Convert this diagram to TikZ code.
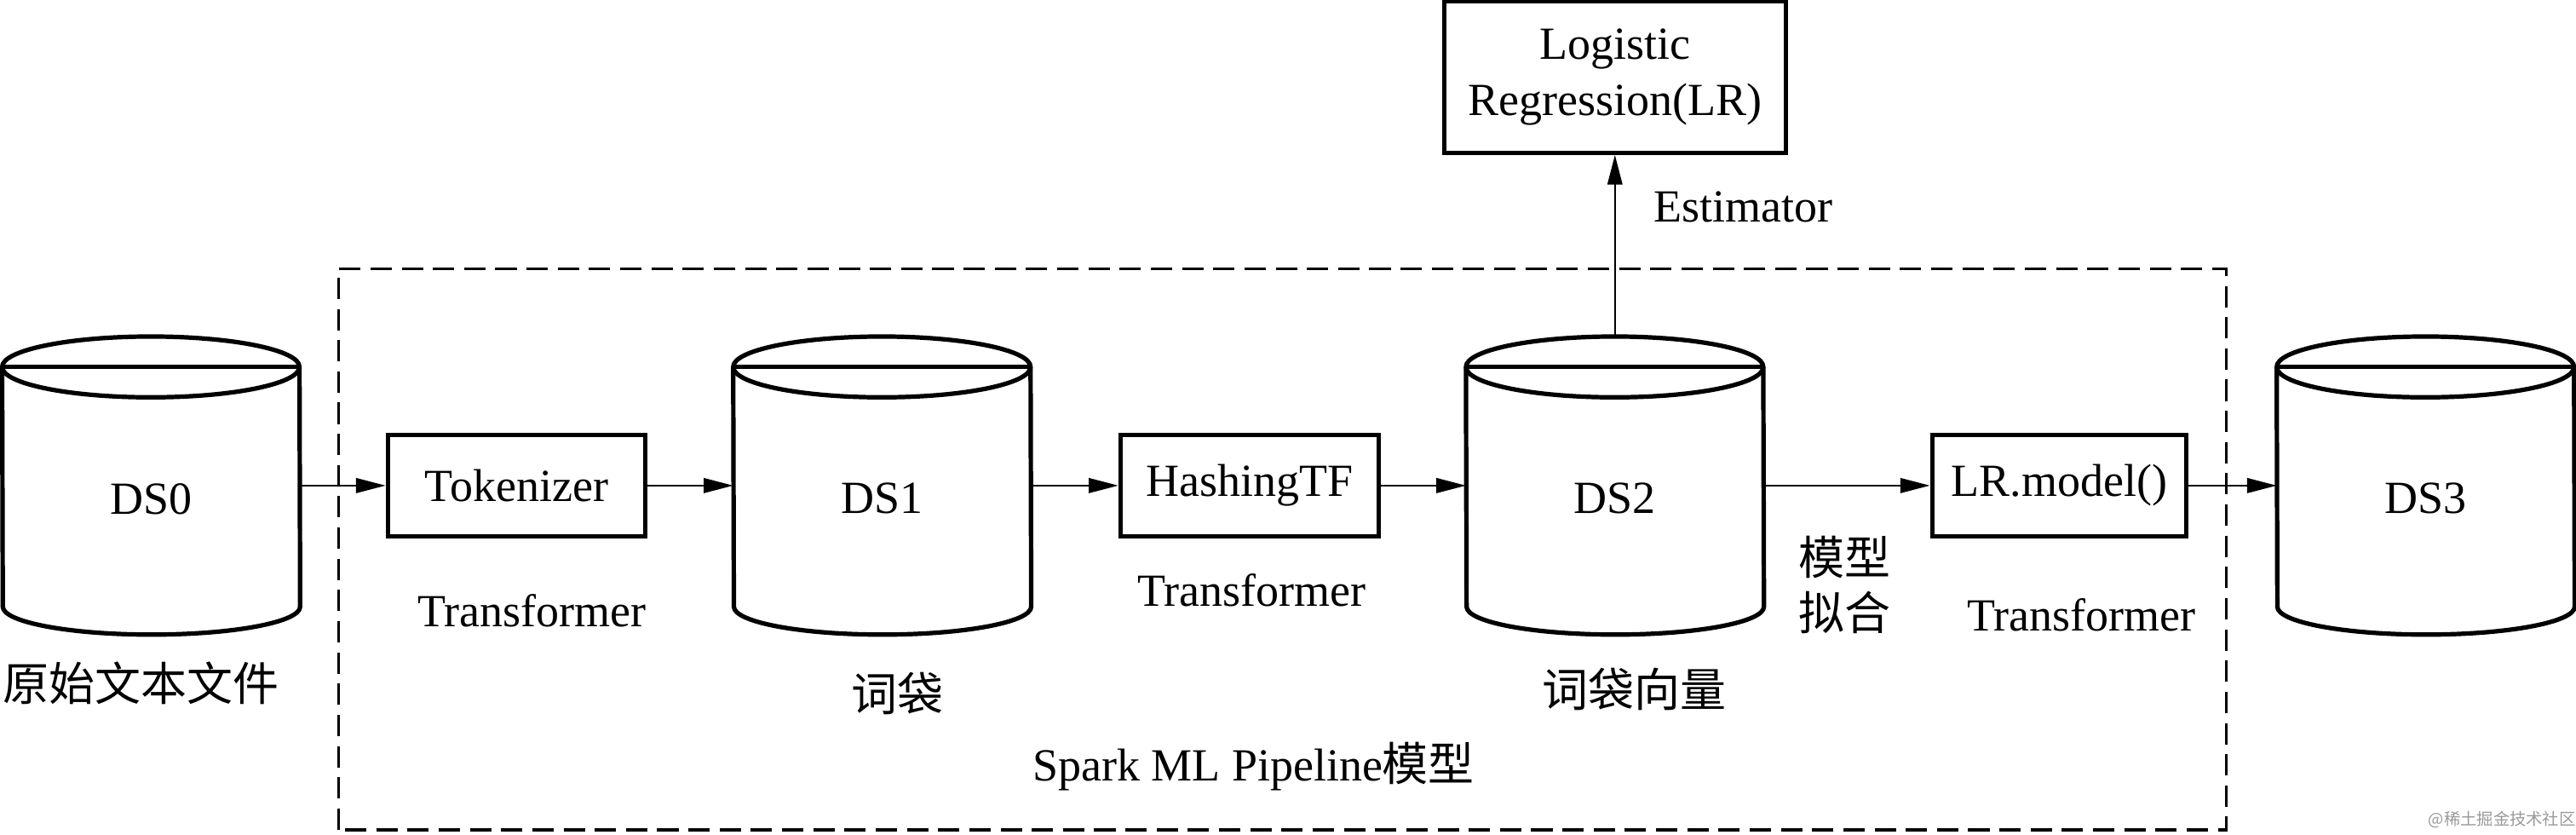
\documentclass[tikz,border=0pt]{standalone}
\usepackage{fontspec}
\setmainfont{Liberation Serif}
\newfontfamily\cjk{Noto Sans CJK SC}
\usetikzlibrary{arrows.meta}
\newcommand\drawcyl[1]{%
  \draw[cylline] ([yshift=-18.5]#1.north west) arc[start angle=180,end angle=0,x radius=90.5,y radius=18.5]
    -- ([yshift=17]#1.south east) arc[start angle=0,end angle=-180,x radius=90.5,y radius=17] -- cycle;
  \draw[cylline] ([yshift=-18.5]#1.north west) -- ([yshift=-18.5]#1.north east);
  \draw[cylline] ([yshift=-18.5]#1.north west) arc[start angle=180,end angle=360,x radius=90.5,y radius=18.5];
}
\tikzset{
  txt/.style={font=\fontsize{28}{34.5}\selectfont, inner sep=0pt, align=center},
  cjktxt/.style={font=\fontsize{28}{34}\selectfont\cjk, inner sep=0pt, align=center},
  cylbox/.style={rectangle, minimum width=181pt, minimum height=181pt, inner sep=0pt},
  procbox/.style={draw, line width=2.6pt, rectangle, minimum height=62pt, inner sep=0pt,
     font=\fontsize{28}{34.5}\selectfont, align=center},
  cylline/.style={line width=2.7pt, line join=round},
  conn/.style={line width=1.2pt, -{Triangle[length=18pt,width=9pt]}},
  pipe/.style={line width=1.7pt, dash pattern=on 13pt off 6pt},
}
\begin{document}
\begin{tikzpicture}[x=1pt,y=1pt]
\useasboundingbox (0,0) rectangle (1568,508);
% pipeline frame
\draw[pipe] (206,3) rectangle (1355,344.5);
% cylinders
\node[cylbox] (ds0) at (92,212.5) {};
\node[cylbox] (ds1) at (537,212.5) {};
\node[cylbox] (ds2) at (983,212.5) {};
\node[cylbox] (ds3) at (1476.5,212.5) {};
\drawcyl{ds0}\drawcyl{ds1}\drawcyl{ds2}\drawcyl{ds3}
\node[txt] (t0) at ([yshift=-8]ds0.center) {DS0};
\node[txt] (t1) at ([yshift=-8]ds1.center) {DS1};
\node[txt] (t2) at ([yshift=-8]ds2.center) {DS2};
\node[txt] (t3) at ([yshift=-8]ds3.center) {DS3};
% boxes
\node[procbox, minimum width=157pt] (tok) at (314.5,212.5) {Tokenizer};
\node[procbox, minimum width=157pt] (hash) at (760.5,212.5) {HashingTF};
\node[procbox, minimum width=155pt] (lrm) at (1253.5,212.5) {LR.model()};
\node[procbox, minimum width=208pt, minimum height=92pt] (lr) at (983,461) {Logistic\\Regression(LR)};
% connectors
\draw[conn] (ds0.east) -- (tok.west);
\draw[conn] (tok.east) -- (ds1.west);
\draw[conn] (ds1.east) -- (hash.west);
\draw[conn] (hash.east) -- (ds2.west);
\draw[conn] (ds2.east) -- (lrm.west);
\draw[conn] (lrm.east) -- (ds3.west);
\draw[conn] (ds2.north) -- (lr.south);
% labels
\node[txt] (est) at (1061,382) {Estimator};
\node[txt] (tf1) at (324,136.5) {Transformer};
\node[txt] (tf2) at (762,149) {Transformer};
\node[txt] (tf3) at (1267,134) {Transformer};
\node[cjktxt] (l0) at (86,92) {原始文本文件};
\node[cjktxt] (l1) at (546,86) {词袋};
\node[cjktxt] (l2) at (995,88.5) {词袋向量};
\node[cjktxt] (fit) at (1123,152) {模型\\拟合};
\node[txt] (pl) at (763,41.5) {Spark ML Pipeline{\cjk 模型}};
\node[font=\fontsize{10}{12}\selectfont\cjk, text=black!40, inner sep=0pt] (wm) at (1523,9) {@稀土掘金技术社区};
\end{tikzpicture}
\end{document}
